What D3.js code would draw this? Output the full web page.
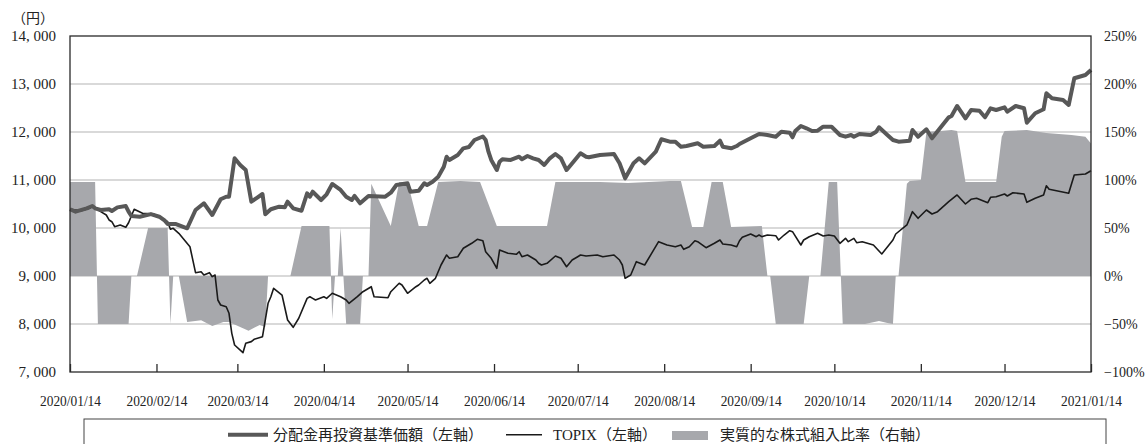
<!DOCTYPE html>
<html><head><meta charset="utf-8">
<script src="https://cdn.jsdelivr.net/npm/d3@7"></script>
<style>body{margin:0;background:#fff}svg{display:block}</style>
</head><body><svg id="chart" width="1146" height="444"></svg>
<script>
// ---------------- data ----------------
const fundDates = ["2020-01-14","2020-01-16","2020-01-20","2020-01-22","2020-01-23","2020-01-25","2020-01-28","2020-01-29","2020-01-31","2020-02-03","2020-02-04","2020-02-05","2020-02-08","2020-02-12","2020-02-15","2020-02-17","2020-02-18","2020-02-21","2020-02-25","2020-02-28","2020-03-02","2020-03-05","2020-03-08","2020-03-10","2020-03-11","2020-03-13","2020-03-15","2020-03-17","2020-03-19","2020-03-23","2020-03-24","2020-03-26","2020-03-29","2020-03-31","2020-04-01","2020-04-03","2020-04-06","2020-04-08","2020-04-09","2020-04-10","2020-04-13","2020-04-15","2020-04-17","2020-04-20","2020-04-22","2020-04-24","2020-04-25","2020-04-27","2020-04-30","2020-05-06","2020-05-08","2020-05-10","2020-05-14","2020-05-15","2020-05-18","2020-05-20","2020-05-21","2020-05-23","2020-05-25","2020-05-27","2020-05-28","2020-05-29","2020-06-01","2020-06-03","2020-06-05","2020-06-07","2020-06-10","2020-06-11","2020-06-12","2020-06-13","2020-06-15","2020-06-16","2020-06-17","2020-06-20","2020-06-23","2020-06-24","2020-06-26","2020-06-28","2020-06-30","2020-07-02","2020-07-04","2020-07-06","2020-07-08","2020-07-10","2020-07-11","2020-07-13","2020-07-15","2020-07-17","2020-07-18","2020-07-22","2020-07-27","2020-07-29","2020-07-31","2020-08-03","2020-08-05","2020-08-07","2020-08-11","2020-08-13","2020-08-16","2020-08-18","2020-08-20","2020-08-22","2020-08-26","2020-08-28","2020-09-01","2020-09-03","2020-09-04","2020-09-07","2020-09-09","2020-09-10","2020-09-14","2020-09-17","2020-09-20","2020-09-23","2020-09-25","2020-09-28","2020-09-29","2020-09-30","2020-10-02","2020-10-04","2020-10-06","2020-10-08","2020-10-10","2020-10-13","2020-10-16","2020-10-18","2020-10-20","2020-10-21","2020-10-23","2020-10-27","2020-10-29","2020-10-30","2020-11-02","2020-11-04","2020-11-06","2020-11-10","2020-11-11","2020-11-13","2020-11-16","2020-11-18","2020-11-24","2020-11-25","2020-11-27","2020-11-30","2020-12-02","2020-12-05","2020-12-07","2020-12-09","2020-12-11","2020-12-14","2020-12-15","2020-12-18","2020-12-21","2020-12-22","2020-12-25","2020-12-28","2020-12-29","2020-12-31","2021-01-04","2021-01-06","2021-01-08","2021-01-12","2021-01-14"];
const fundValues = [10390,10340,10410,10458,10410,10375,10390,10354,10430,10458,10340,10250,10235,10290,10235,10152,10083,10083,9994,10375,10515,10271,10598,10652,10652,11452,11313,11208,10548,10708,10285,10390,10444,10431,10548,10410,10360,10723,10652,10756,10583,10702,10917,10792,10652,10583,10667,10515,10667,10652,10735,10896,10931,10756,10777,10931,10896,10965,11069,11277,11485,11417,11521,11660,11688,11833,11906,11833,11590,11417,11208,11381,11431,11417,11485,11431,11500,11452,11417,11313,11452,11542,11452,11208,11277,11417,11556,11485,11473,11521,11542,11348,11035,11348,11452,11348,11590,11848,11798,11798,11694,11708,11765,11694,11708,11819,11694,11660,11708,11750,11869,11958,11938,11902,12006,11986,11890,12021,12125,12077,12021,12027,12110,12110,11938,11902,11938,11902,11958,11938,12006,12098,11938,11833,11798,11819,12042,11902,12056,11869,12306,12333,12542,12285,12458,12444,12306,12494,12458,12515,12423,12542,12494,12194,12390,12473,12806,12702,12667,12563,13119,13188,13292];

const topixDates = ["2020-01-14","2020-01-18","2020-01-21","2020-01-22","2020-01-25","2020-01-27","2020-01-28","2020-01-29","2020-01-30","2020-02-01","2020-02-03","2020-02-04","2020-02-06","2020-02-09","2020-02-13","2020-02-15","2020-02-18","2020-02-19","2020-02-20","2020-02-22","2020-02-26","2020-02-28","2020-03-01","2020-03-02","2020-03-04","2020-03-05","2020-03-06","2020-03-07","2020-03-08","2020-03-10","2020-03-11","2020-03-12","2020-03-13","2020-03-16","2020-03-17","2020-03-19","2020-03-20","2020-03-23","2020-03-24","2020-03-25","2020-03-26","2020-03-27","2020-03-30","2020-04-01","2020-04-03","2020-04-05","2020-04-08","2020-04-09","2020-04-10","2020-04-11","2020-04-14","2020-04-15","2020-04-17","2020-04-20","2020-04-22","2020-04-23","2020-04-26","2020-04-28","2020-05-01","2020-05-02","2020-05-07","2020-05-08","2020-05-11","2020-05-12","2020-05-14","2020-05-17","2020-05-18","2020-05-20","2020-05-21","2020-05-22","2020-05-24","2020-05-26","2020-05-28","2020-05-29","2020-06-01","2020-06-03","2020-06-06","2020-06-08","2020-06-10","2020-06-11","2020-06-13","2020-06-15","2020-06-16","2020-06-19","2020-06-22","2020-06-23","2020-06-24","2020-06-26","2020-06-29","2020-06-30","2020-07-01","2020-07-03","2020-07-06","2020-07-08","2020-07-10","2020-07-12","2020-07-14","2020-07-15","2020-07-17","2020-07-21","2020-07-23","2020-07-27","2020-07-29","2020-07-30","2020-07-31","2020-08-02","2020-08-04","2020-08-07","2020-08-12","2020-08-15","2020-08-18","2020-08-20","2020-08-21","2020-08-23","2020-08-25","2020-08-26","2020-08-29","2020-09-01","2020-09-03","2020-09-04","2020-09-07","2020-09-09","2020-09-10","2020-09-11","2020-09-14","2020-09-16","2020-09-17","2020-09-18","2020-09-20","2020-09-23","2020-09-24","2020-09-26","2020-09-28","2020-09-29","2020-10-02","2020-10-03","2020-10-05","2020-10-08","2020-10-10","2020-10-12","2020-10-14","2020-10-16","2020-10-18","2020-10-19","2020-10-21","2020-10-22","2020-10-24","2020-10-28","2020-10-31","2020-11-04","2020-11-05","2020-11-09","2020-11-11","2020-11-13","2020-11-16","2020-11-18","2020-11-20","2020-11-24","2020-11-27","2020-11-30","2020-12-02","2020-12-04","2020-12-08","2020-12-09","2020-12-11","2020-12-14","2020-12-15","2020-12-17","2020-12-21","2020-12-22","2020-12-25","2020-12-28","2020-12-29","2020-12-30","2021-01-06","2021-01-08","2021-01-12","2021-01-14"];
const topixValues = [10390,10360,10410,10458,10340,10271,10167,10131,10027,10063,10015,10110,10390,10306,10292,10235,10131,9973,9994,9890,9610,9069,9090,9021,9069,8986,9021,8500,8396,8360,8223,7806,7563,7402,7598,7633,7681,7735,8083,8431,8569,8744,8604,8083,7931,8119,8535,8569,8535,8500,8569,8535,8640,8569,8500,8431,8569,8673,8777,8569,8548,8673,8848,8813,8640,8777,8813,8917,8952,8848,8952,9229,9438,9369,9402,9577,9681,9765,9735,9506,9369,9160,9542,9473,9452,9506,9402,9438,9333,9265,9229,9265,9417,9369,9194,9333,9402,9438,9417,9438,9402,9438,9333,9229,8952,9021,9298,9229,9715,9646,9610,9646,9556,9610,9735,9715,9590,9681,9750,9667,9646,9610,9735,9806,9875,9819,9854,9819,9854,9840,9750,9854,9944,9923,9646,9750,9819,9890,9833,9854,9833,9681,9785,9715,9785,9694,9715,9646,9458,9750,9875,10063,10340,10202,10375,10292,10340,10548,10688,10500,10598,10619,10527,10640,10652,10708,10667,10735,10708,10535,10619,10688,10881,10806,10723,11104,11125,11194];

const ratioDates = ["2020-01-14","2020-01-23","2020-01-24","2020-02-04","2020-02-05","2020-02-07","2020-02-11","2020-02-18","2020-02-19","2020-02-20","2020-02-22","2020-02-25","2020-03-01","2020-03-05","2020-03-09","2020-03-11","2020-03-15","2020-03-18","2020-03-20","2020-03-22","2020-03-24","2020-03-25","2020-04-02","2020-04-06","2020-04-16","2020-04-17","2020-04-18","2020-04-19","2020-04-20","2020-04-21","2020-04-22","2020-04-27","2020-04-28","2020-04-30","2020-05-01","2020-05-08","2020-05-11","2020-05-14","2020-05-18","2020-05-21","2020-05-25","2020-06-02","2020-06-09","2020-06-15","2020-07-03","2020-07-06","2020-07-22","2020-08-01","2020-08-16","2020-08-20","2020-08-24","2020-08-28","2020-08-31","2020-09-04","2020-09-07","2020-09-18","2020-09-20","2020-09-21","2020-09-23","2020-10-03","2020-10-05","2020-10-09","2020-10-12","2020-10-15","2020-10-17","2020-10-25","2020-10-30","2020-11-02","2020-11-04","2020-11-05","2020-11-06","2020-11-09","2020-11-10","2020-11-14","2020-11-16","2020-11-21","2020-11-25","2020-11-27","2020-11-30","2020-12-11","2020-12-13","2020-12-14","2020-12-22","2020-12-29","2021-01-07","2021-01-12","2021-01-14"];
const ratioValues = [98,98,-50,-50,0,0,50,50,-50,0,0,-48,-46,-52,-48,-48,-53,-57,-54,-51,-53,0,0,52,52,-45,0,0,50,0,-50,-50,0,0,96,52,98,98,52,52,98,99,98,52,52,98,98,97,99,99,51,51,98,98,51,52,0,0,-50,-50,0,0,98,98,-50,-50,-47,-49,-50,0,0,96,99,100,150,151,152,151,98,98,145,151,152,149,147,145,138];

const leftTicks = [7000,8000,9000,10000,11000,12000,13000,14000];
const rightTicks = [-100,-50,0,50,100,150,200,250];
const xTickDates = ["2020-01-14","2020-02-14","2020-03-14","2020-04-14","2020-05-14","2020-06-14","2020-07-14","2020-08-14","2020-09-14","2020-10-14","2020-11-14","2020-12-14","2021-01-14"];
const unitLabel = "（円）";
const legendLabels = ["分配金再投資基準価額（左軸）","TOPIX（左軸）","実質的な株式組入比率（右軸）"];

// ---------------- drawing ----------------
const FONT = '"Liberation Serif","Noto Sans CJK JP",serif';
const W = 1146, H = 444;
const m = {top:36, right:55, bottom:72, left:70};
const parse = d3.timeParse("%Y-%m-%d");
const svg = d3.select("#chart");

const x = d3.scaleTime()
  .domain([parse(xTickDates[0]), parse(xTickDates[xTickDates.length-1])])
  .range([m.left, W - m.right]);
const y = d3.scaleLinear().domain([7000,14000]).range([H - m.bottom, m.top]);
const y2 = d3.scaleLinear().domain([-100,250]).range([H - m.bottom, m.top]);

const fund = fundDates.map((d,i)=>({date:parse(d), v:fundValues[i]}));
const topix = topixDates.map((d,i)=>({date:parse(d), v:topixValues[i]}));
const ratio = ratioDates.map((d,i)=>({date:parse(d), v:ratioValues[i]}));

// grid
svg.append("g").selectAll("line")
  .data(leftTicks.slice(1,-1))
  .join("line")
  .attr("x1", m.left).attr("x2", W - m.right)
  .attr("y1", d=>y(d)).attr("y2", d=>y(d))
  .attr("stroke", "#b4b4b4").attr("stroke-width", 1.2);

// area
svg.append("path")
  .datum(ratio)
  .attr("fill", "#a7a8ac")
  .attr("d", d3.area().x(d=>x(d.date)).y0(y2(0)).y1(d=>y2(d.v)));

// lines
svg.append("path")
  .datum(topix)
  .attr("fill","none").attr("stroke","#1a1a1a").attr("stroke-width",1.6)
  .attr("stroke-linejoin","round")
  .attr("d", d3.line().x(d=>x(d.date)).y(d=>y(d.v)));

svg.append("path")
  .datum(fund)
  .attr("fill","none").attr("stroke","#585858").attr("stroke-width",4)
  .attr("stroke-linejoin","round")
  .attr("d", d3.line().x(d=>x(d.date)).y(d=>y(d.v)));

// frame
svg.append("rect")
  .attr("x", m.left).attr("y", m.top)
  .attr("width", W - m.left - m.right).attr("height", H - m.top - m.bottom)
  .attr("fill","none").attr("stroke","#2a2a2a").attr("stroke-width",1.3);

// x axis
const xAxis = svg.append("g")
  .attr("transform", `translate(0,${H - m.bottom})`)
  .call(d3.axisBottom(x)
    .tickValues(xTickDates.map(parse))
    .tickSizeInner(-8).tickSizeOuter(0).tickPadding(23)
    .tickFormat(d3.timeFormat("%Y/%m/%d")));
xAxis.select(".domain").remove();
xAxis.selectAll(".tick line").attr("stroke","#2a2a2a").attr("stroke-width",1.3);
xAxis.selectAll("text")
  .attr("font-family", FONT).attr("font-size", 15).attr("fill","#222")
  .attr("textLength", 61).attr("lengthAdjust","spacingAndGlyphs");

// left axis
const yAxis = svg.append("g")
  .attr("transform", `translate(${m.left},0)`)
  .call(d3.axisLeft(y).tickValues(leftTicks).tickSize(0).tickPadding(14)
    .tickFormat(d => d3.format(",")(d).replace(",", ", ")));
yAxis.select(".domain").remove();
yAxis.selectAll("text").attr("font-family", FONT).attr("font-size", 15).attr("fill","#222");

// right axis
const y2Axis = svg.append("g")
  .attr("transform", `translate(${W - m.right},0)`)
  .call(d3.axisRight(y2).tickValues(rightTicks).tickSize(0).tickPadding(13)
    .tickFormat(d => d3.format("d")(d) + "%"));
y2Axis.select(".domain").remove();
y2Axis.selectAll("text").attr("font-family", FONT).attr("font-size", 14).attr("fill","#222");

// unit label
svg.append("text")
  .attr("x", 12).attr("y", 18).attr("dy","0.35em")
  .attr("font-family", FONT).attr("font-size", 14).attr("fill","#222")
  .text(unitLabel);

// legend
const lg = svg.append("g");
lg.append("rect")
  .attr("x", 84).attr("y", 419).attr("width", 1022).attr("height", 40)
  .attr("fill","#fff").attr("stroke","#444").attr("stroke-width",1);
const ly = 434.7;
lg.append("line").attr("x1",228).attr("x2",268).attr("y1",ly).attr("y2",ly)
  .attr("stroke","#585858").attr("stroke-width",4);
lg.append("line").attr("x1",506).attr("x2",542).attr("y1",ly).attr("y2",ly)
  .attr("stroke","#1a1a1a").attr("stroke-width",1.6);
lg.append("rect").attr("x",672).attr("y",431).attr("width",36).attr("height",9)
  .attr("fill","#a7a8ac");
const lx = [273, 553, 720];
lg.selectAll("text.lab").data(legendLabels).join("text")
  .attr("class","lab")
  .attr("x", (d,i)=>lx[i]).attr("y", ly).attr("dy","0.35em")
  .attr("font-family", FONT).attr("font-size", 15).attr("fill","#222")
  .text(d=>d);
</script>
</body></html>
